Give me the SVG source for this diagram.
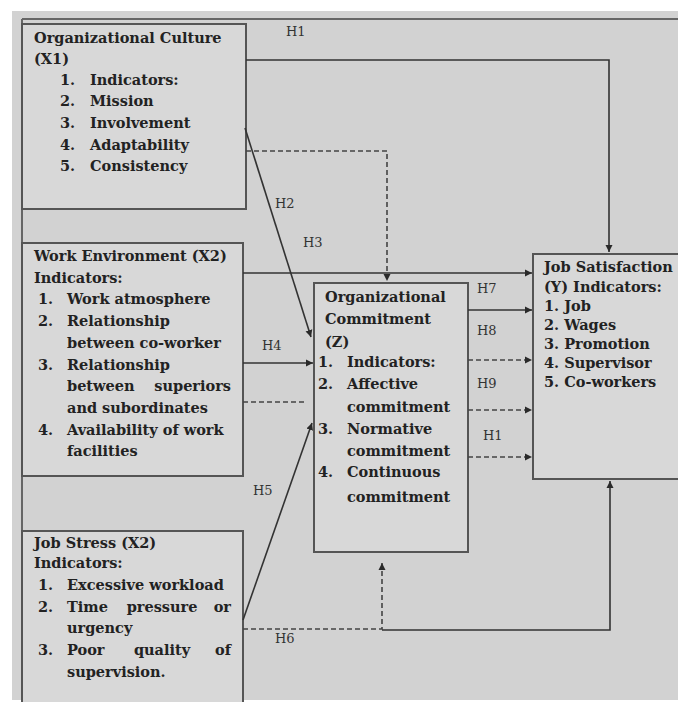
<svg xmlns="http://www.w3.org/2000/svg" width="678" height="702" viewBox="0 0 678 702">
<defs>
<marker id="arr" markerWidth="8" markerHeight="8" refX="7" refY="4" orient="auto" markerUnits="userSpaceOnUse">
<path d="M0,0.5 L7,4 L0,7.5 Z" fill="#2a2a2a"/>
</marker>
<style>
.box{fill:#d8d8d8;stroke:#555;stroke-width:2}
.t{font-family:"DejaVu Serif","Liberation Serif",serif;font-weight:bold;font-size:14.5px;fill:#222}
.h{font-family:"DejaVu Serif","Liberation Serif",serif;font-size:13px;fill:#333}
.c{fill:none;stroke:#333;stroke-width:1.6}
.d{fill:none;stroke:#444;stroke-width:1.6;stroke-dasharray:5,3}
</style>
</defs>
<rect x="0" y="0" width="678" height="702" fill="#fff"/>
<rect x="12" y="11" width="666" height="689" fill="#d2d2d2"/>
<path d="M22,19 H678 M22,19 V700" fill="none" stroke="#666" stroke-width="2"/>

<g id="x1">
<rect class="box" x="22" y="24" width="224" height="185"/>
<text class="t" x="34" y="43">Organizational Culture</text>
<text class="t" x="34" y="64">(X1)</text>
<text class="t" x="60" y="85">1.</text><text class="t" x="90" y="85">Indicators:</text>
<text class="t" x="60" y="106">2.</text><text class="t" x="90" y="106">Mission</text>
<text class="t" x="60" y="128">3.</text><text class="t" x="90" y="128">Involvement</text>
<text class="t" x="60" y="150">4.</text><text class="t" x="90" y="150">Adaptability</text>
<text class="t" x="60" y="171">5.</text><text class="t" x="90" y="171">Consistency</text>
</g>

<g id="x2">
<rect class="box" x="22" y="243" width="221" height="233"/>
<text class="t" x="34" y="261">Work Environment (X2)</text>
<text class="t" x="34" y="283">Indicators:</text>
<text class="t" x="38" y="304">1.</text><text class="t" x="67" y="304">Work atmosphere</text>
<text class="t" x="38" y="326">2.</text><text class="t" x="67" y="326">Relationship</text>
<text class="t" x="67" y="348">between co-worker</text>
<text class="t" x="38" y="370">3.</text><text class="t" x="67" y="370">Relationship</text>
<text class="t" x="67" y="391">between</text><text class="t" x="231" y="391" text-anchor="end">superiors</text>
<text class="t" x="67" y="413">and subordinates</text>
<text class="t" x="38" y="435">4.</text><text class="t" x="67" y="435">Availability of work</text>
<text class="t" x="67" y="456">facilities</text>
</g>

<g id="x3">
<rect class="box" x="22" y="531" width="221" height="180"/>
<text class="t" x="34" y="548">Job Stress (X2)</text>
<text class="t" x="34" y="568">Indicators:</text>
<text class="t" x="38" y="590">1.</text><text class="t" x="67" y="590">Excessive workload</text>
<text class="t" x="38" y="612">2.</text><text class="t" x="67" y="612">Time</text><text class="t" x="162" y="612" text-anchor="middle">pressure</text><text class="t" x="231" y="612" text-anchor="end">or</text>
<text class="t" x="67" y="633">urgency</text>
<text class="t" x="38" y="655">3.</text><text class="t" x="67" y="655">Poor</text><text class="t" x="162" y="655" text-anchor="middle">quality</text><text class="t" x="231" y="655" text-anchor="end">of</text>
<text class="t" x="67" y="677">supervision.</text>
</g>

<g id="z">
<rect class="box" x="314" y="283" width="154" height="269"/>
<text class="t" x="325" y="302">Organizational</text>
<text class="t" x="325" y="324">Commitment</text>
<text class="t" x="325" y="347">(Z)</text>
<text class="t" x="318" y="367">1.</text><text class="t" x="347" y="367">Indicators:</text>
<text class="t" x="318" y="389">2.</text><text class="t" x="347" y="389">Affective</text>
<text class="t" x="347" y="412">commitment</text>
<text class="t" x="318" y="434">3.</text><text class="t" x="347" y="434">Normative</text>
<text class="t" x="347" y="456">commitment</text>
<text class="t" x="318" y="477">4.</text><text class="t" x="347" y="477">Continuous</text>
<text class="t" x="347" y="502">commitment</text>
</g>

<g id="y">
<rect class="box" x="533" y="254" width="160" height="225"/>
<text class="t" x="544" y="272">Job Satisfaction</text>
<text class="t" x="544" y="292">(Y) Indicators:</text>
<text class="t" x="544" y="311">1. Job</text>
<text class="t" x="544" y="330">2. Wages</text>
<text class="t" x="544" y="349">3. Promotion</text>
<text class="t" x="544" y="368">4. Supervisor</text>
<text class="t" x="544" y="387">5. Co-workers</text>
</g>

<g id="connectors">
<path class="c" d="M246,60 H609 V252" marker-end="url(#arr)"/>
<path class="c" d="M245,128 L311,337" marker-end="url(#arr)"/>
<path class="d" d="M246,151 H387 V281" marker-end="url(#arr)"/>
<path class="c" d="M243,273 H532" marker-end="url(#arr)"/>
<path class="c" d="M243,363 H313" marker-end="url(#arr)"/>
<path class="d" d="M243,402 H306"/>
<path class="c" d="M243,620 L312,423" marker-end="url(#arr)"/>
<path class="d" d="M243,629 H382 V563" marker-end="url(#arr)"/>
<path class="c" d="M382,630 H610 V481" marker-end="url(#arr)"/>
<path class="c" d="M468,310 H532" marker-end="url(#arr)"/>
<path class="d" d="M468,360 H532" marker-end="url(#arr)"/>
<path class="d" d="M468,410 H532" marker-end="url(#arr)"/>
<path class="d" d="M468,457 H532" marker-end="url(#arr)"/>
<text class="h" x="286" y="36">H1</text>
<text class="h" x="275" y="208">H2</text>
<text class="h" x="303" y="247">H3</text>
<text class="h" x="262" y="350">H4</text>
<text class="h" x="253" y="495">H5</text>
<text class="h" x="275" y="643">H6</text>
<text class="h" x="477" y="293">H7</text>
<text class="h" x="477" y="335">H8</text>
<text class="h" x="477" y="388">H9</text>
<text class="h" x="483" y="440">H1</text>
</g>
</svg>
